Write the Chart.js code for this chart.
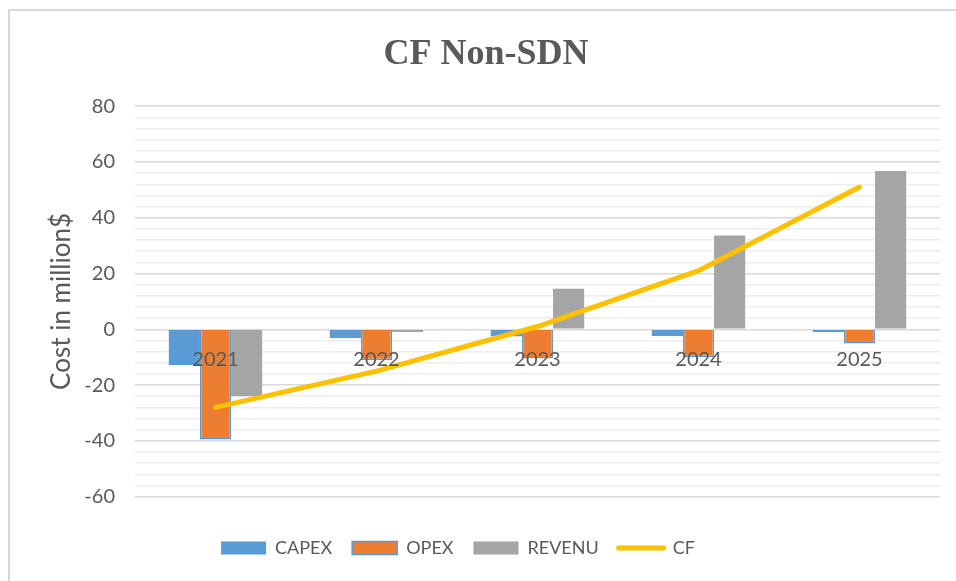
<!DOCTYPE html>
<html>
<head>
<meta charset="utf-8">
<script src="https://cdn.jsdelivr.net/npm/chart.js@4"></script>
<style>
  body { margin: 0; background: #fff; }
  .wrap { position: relative; width: 956px; height: 581px; }
  .frame { position: absolute; left: 8px; top: 9px; right: -5px; bottom: -5px;
           border: 2px solid #d9d9d9; pointer-events: none; }
</style>
</head>
<body>
<div class="wrap">
  <canvas id="mychart" width="956" height="581"></canvas>
  <div class="frame"></div>
</div>
<script>
const years = ['2021', '2022', '2023', '2024', '2025'];
const capex = [-12.8, -3.1, -2.5, -2.4, -1];
const opex = [-39.5, -11, -10.5, -10, -5.1];
const revenu = [-24, -1, 14.5, 33.6, 56.8];
const cf = [-28, -15, 1, 21, 51];

const textColor = '#595959';
const font = 'Lato, Carlito, Calibri, sans-serif';

// shift the legend a little left, like the original
const legendShift = {
    id: 'legendShift',
    afterLayout(chart) { chart.legend.right -= 56; }
};

const ctx = document.getElementById('mychart').getContext('2d');
let mychart = new Chart(ctx, {
    data: {
        labels: years,
        datasets: [
            {
                type: 'bar', label: 'CAPEX', data: capex, order: 1,
                backgroundColor: '#5b9bd5', borderWidth: 0
            },
            {
                type: 'bar', label: 'OPEX', data: opex, order: 1,
                backgroundColor: '#ed7d31', borderColor: '#5b9bd5', borderWidth: 1.5
            },
            {
                type: 'bar', label: 'REVENU', data: revenu, order: 1,
                backgroundColor: '#a5a5a5', borderWidth: 0
            },
            {
                type: 'line', label: 'CF', data: cf, order: 0,
                borderColor: '#ffc000', backgroundColor: '#ffc000', borderWidth: 5,
                borderCapStyle: 'round', pointRadius: 0, tension: 0, fill: false
            }
        ]
    },
    options: {
        responsive: false,
        animation: false,
        datasets: { bar: { categoryPercentage: 0.58, barPercentage: 1 } },
        layout: { padding: { left: 32, right: 16, top: 33, bottom: 14 } },
        plugins: {
            tooltip: { enabled: false },
            title: {
                display: true, text: 'CF Non-SDN', color: textColor,
                font: { family: '"Liberation Serif", "Times New Roman", serif', size: 36, weight: 'bold', lineHeight: 1.2 },
                padding: { top: 0, bottom: 30 }
            },
            legend: {
                position: 'bottom',
                title: { display: true, text: ' ', font: { size: 2 }, padding: { top: 0, bottom: 20 } },
                labels: {
                    color: textColor,
                    font: { family: font, size: 18 },
                    usePointStyle: true, pointStyleWidth: 45, boxHeight: 13, padding: 20,
                    generateLabels: chart => chart.data.datasets.map((ds, i) => ({
                        text: ds.label,
                        datasetIndex: i,
                        fillStyle: ds.backgroundColor,
                        strokeStyle: ds.type === 'line' ? ds.borderColor : (ds.borderWidth ? ds.borderColor : ds.backgroundColor),
                        lineWidth: ds.type === 'line' ? 5 : (ds.borderWidth || 0),
                        lineCap: 'round',
                        pointStyle: ds.type === 'line' ? 'line' : 'rect',
                        fontColor: textColor,
                        hidden: false
                    }))
                }
            }
        },
        scales: {
            x: {
                position: { y: 0 },
                grid: { display: false, drawTicks: false },
                border: { display: false },
                ticks: { z: 1, color: textColor, font: { family: font, size: 20 }, padding: 18 }
            },
            y: {
                min: -60, max: 80,
                afterFit: scale => { scale.width = 135 - 32; },
                border: { display: false },
                grid: {
                    drawTicks: false,
                    color: c => c.tick.value % 20 === 0 ? '#d9d9d9' : '#eeeeee',
                    lineWidth: 1.5
                },
                ticks: {
                    stepSize: 4, autoSkip: false, padding: 20,
                    color: textColor, font: { family: font, size: 20 },
                    callback: v => v % 20 === 0 ? v : ''
                },
                title: {
                    display: true, text: 'Cost in million$', color: textColor,
                    font: { family: font, size: 26 }, padding: { top: 14, bottom: 0 }
                }
            }
        }
    },
    plugins: [legendShift]
});
</script>
</body>
</html>
